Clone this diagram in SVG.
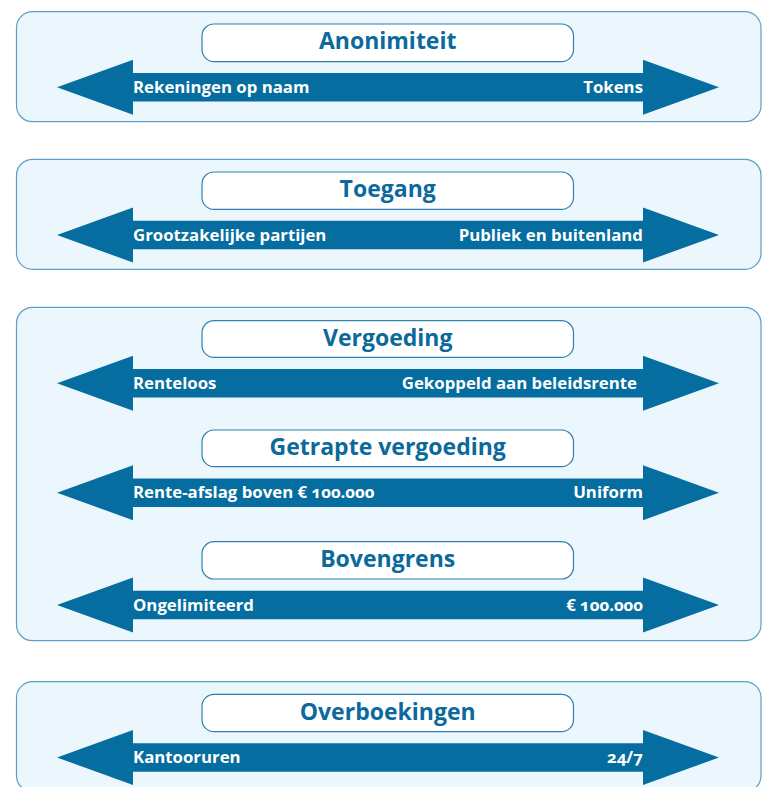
<svg xmlns="http://www.w3.org/2000/svg" width="769" height="787" viewBox="0 0 769 787">
<style>
.panel{fill:#ebf6fd;stroke:#5c9fc7;stroke-width:1.2}
.tbox{fill:#ffffff;stroke:#2d80b0;stroke-width:1.2}
.title{font-family:"Open Sans","Noto Sans",sans-serif;font-weight:700;font-size:23px;fill:#0b6a9b;text-anchor:middle}
.arrow{fill:#056d9f}
.lbl{font-family:"Open Sans","Noto Sans",sans-serif;font-weight:700;font-size:16.8px;fill:#ffffff;font-variant-numeric:oldstyle-nums}
.r{text-anchor:end}
</style>
<defs>
<path id="arr" d="M57,0 L133,-27.5 L133,-14.3 L643,-14.3 L643,-27.5 L719,0 L643,27.5 L643,14.3 L133,14.3 L133,27.5 Z"/>
</defs>
<g id="panels">
<rect class="panel" x="16.5" y="11.7" width="744.5" height="110" rx="16"/>
<rect class="panel" x="16.5" y="159.3" width="744.5" height="110" rx="16"/>
<rect class="panel" x="16.5" y="307.3" width="744.5" height="333.4" rx="16"/>
<rect class="panel" x="16.5" y="681.7" width="744.5" height="110" rx="16"/>
</g>
<g id="anonimiteit">
<rect class="tbox" x="202" y="24" width="371.5" height="37.6" rx="12"/>
<text class="title" x="387.7" y="49.3">Anonimiteit</text>
<use href="#arr" class="arrow" y="87.3"/>
<text class="lbl" x="133" y="93">Rekeningen op naam</text>
<text class="lbl r" x="643" y="93">Tokens</text>
</g>
<g id="toegang">
<rect class="tbox" x="202" y="172" width="371.5" height="37.4" rx="12"/>
<text class="title" x="387.7" y="197.2">Toegang</text>
<use href="#arr" class="arrow" y="235"/>
<text class="lbl" x="133" y="240.7">Grootzakelijke partijen</text>
<text class="lbl r" x="643" y="240.7">Publiek en buitenland</text>
</g>
<g id="vergoeding">
<rect class="tbox" x="202" y="320.7" width="371.5" height="36.7" rx="12"/>
<text class="title" x="387.7" y="345.6">Vergoeding</text>
<use href="#arr" class="arrow" y="383.3"/>
<text class="lbl" x="133" y="389">Renteloos</text>
<text class="lbl r" x="637" y="389">Gekoppeld aan beleidsrente</text>
</g>
<g id="getrapte-vergoeding">
<rect class="tbox" x="202" y="430" width="371.5" height="36.7" rx="12"/>
<text class="title" x="387.7" y="455">Getrapte vergoeding</text>
<use href="#arr" class="arrow" y="492.7"/>
<text class="lbl" x="133" y="498.4">Rente-afslag boven € 100.000</text>
<text class="lbl r" x="643" y="498.4">Uniform</text>
</g>
<g id="bovengrens">
<rect class="tbox" x="202" y="541.7" width="371.5" height="37.3" rx="12"/>
<text class="title" x="387.7" y="566.8">Bovengrens</text>
<use href="#arr" class="arrow" y="605"/>
<text class="lbl" x="133" y="610.7">Ongelimiteerd</text>
<text class="lbl r" x="643" y="610.7">€ 100.000</text>
</g>
<g id="overboekingen">
<rect class="tbox" x="202" y="694.3" width="371.5" height="37.4" rx="12"/>
<text class="title" x="387.7" y="719.5">Overboekingen</text>
<use href="#arr" class="arrow" y="757.5"/>
<text class="lbl" x="133" y="763.2">Kantooruren</text>
<text class="lbl r" x="643" y="763.2">24/7</text>
</g>
<g id="connectors"/>
</svg>
